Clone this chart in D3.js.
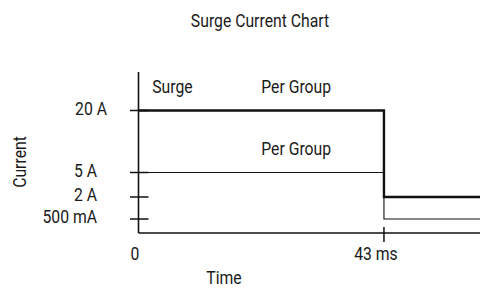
<!DOCTYPE html>
<html><head><meta charset="utf-8">
<script src="https://cdn.jsdelivr.net/npm/d3@7"></script>
<style>
body{margin:0;background:#fff;}
text{font-family:Roboto,"Noto Sans",sans-serif;fill:#1a1a1a;font-size:19px;}
</style></head><body>
<svg id="c" width="480" height="288"></svg>
<script>
const title = "Surge Current Chart";
const yTickValues = [20, 5, 2, 0.5];
const yTickLabels = ["20 A", "5 A", "2 A", "500 mA"];
const xTickValues = [0, 43];
const xTickLabels = ["0", "43 ms"];
const surgeTimes = [0, 43, 43, 60];
const surgeValues = [20, 20, 2, 2];
const groupTimes = [0, 43, 43, 60];
const groupValues = [5, 5, 0.5, 0.5];
const annotationTimes = [2.4, 21.5, 21.5];
const annotationValues = [20, 20, 5];
const annotationTexts = ["Surge", "Per Group", "Per Group"];

const SX = 0.83;
const svg = d3.select("#c");
const x = d3.scaleLinear().domain([0, 60]).range([138.5, 481]);
const y = d3.scaleLinear().domain([0, 0.5, 2, 5, 20, 30]).range([233, 219, 197, 172.5, 110.5, 72]);

function label(px, py, txt, anchor, rot) {
  const g = svg.append("g").attr("transform", `translate(${px},${py})` + (rot ? ` rotate(${rot})` : "") + ` scale(${SX},1)`);
  g.append("text").attr("text-anchor", anchor || "start").text(txt);
  return g;
}

label(260, 27, title, "middle");

const ink = "#111";
svg.append("line").attr("x1", x(0)).attr("x2", x(0)).attr("y1", y(30)).attr("y2", y(0))
  .attr("stroke", ink).attr("stroke-width", 1.6);
svg.append("line").attr("x1", x(0)).attr("x2", 480).attr("y1", y(0)).attr("y2", y(0))
  .attr("stroke", ink).attr("stroke-width", 1.6);

yTickValues.forEach((v, i) => {
  svg.append("line").attr("x1", x(0) - 8.5).attr("x2", x(0) + 10).attr("y1", y(v)).attr("y2", y(v))
    .attr("stroke", ink).attr("stroke-width", 1.5);
  const right = i === 0 ? x(0) - 31.5 : x(0) - 41.5;
  label(right, y(v) + 4, yTickLabels[i], "end");
});
xTickValues.forEach((v, i) => {
  if (v !== 0) svg.append("line").attr("x1", x(v)).attr("x2", x(v)).attr("y1", y(0) - 6).attr("y2", y(0) + 9)
    .attr("stroke", ink).attr("stroke-width", 1.5);
  label(x(v) - (v === 0 ? 3.5 : 8), 260, xTickLabels[i], "middle");
});

label(224, 284, "Time", "middle");
label(26, 162, "Current", "middle", -90);

const line = d3.line().x(d => x(d[0])).y(d => y(d[1]));
svg.append("path").datum(groupTimes.map((t, i) => [t, groupValues[i]]))
  .attr("d", line).attr("fill", "none").attr("stroke", ink).attr("stroke-width", 1.1);
svg.append("path").datum(surgeTimes.map((t, i) => [t, surgeValues[i]]))
  .attr("d", line).attr("fill", "none").attr("stroke", ink).attr("stroke-width", 2.4);

annotationTexts.forEach((t, i) => {
  label(x(annotationTimes[i]), y(annotationValues[i]) - 17.5, t, "start");
});
</script></body></html>
